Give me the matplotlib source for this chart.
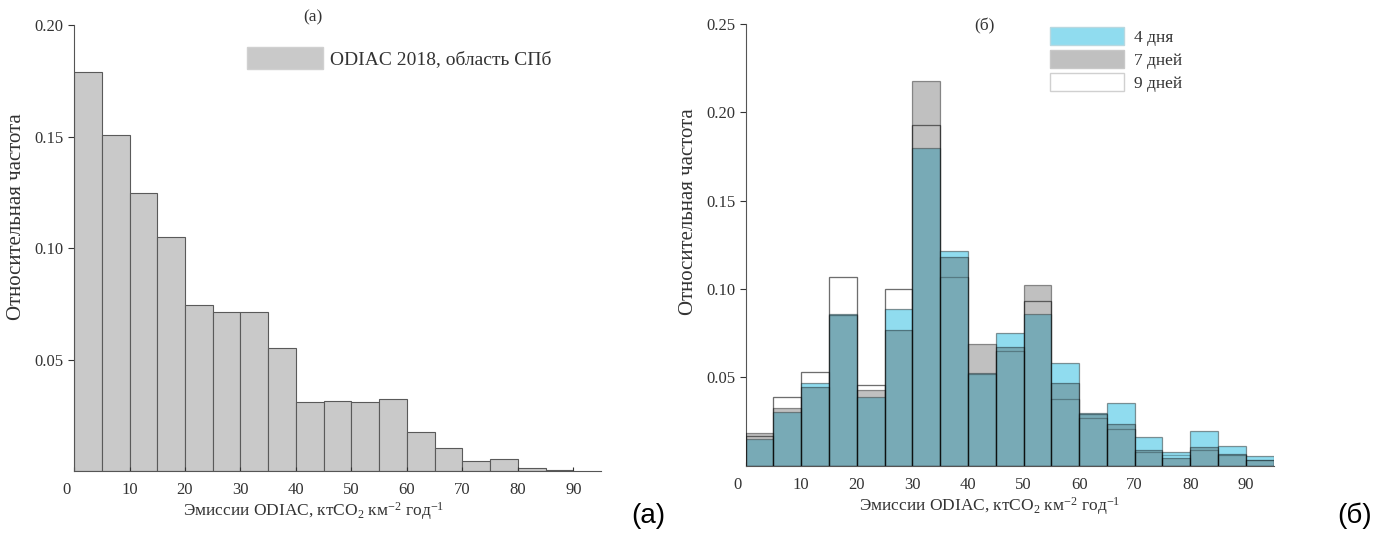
import matplotlib
matplotlib.use('Agg')
import matplotlib.pyplot as plt
import matplotlib.transforms as mtransforms
import numpy as np

plt.rcParams['font.family'] = ['Liberation Serif', 'DejaVu Serif']
plt.rcParams['mathtext.fontset'] = 'custom'
plt.rcParams['mathtext.rm'] = 'Liberation Serif'
plt.rcParams['mathtext.it'] = 'Liberation Serif:italic'
plt.rcParams['text.color'] = '#333333'
plt.rcParams['axes.labelcolor'] = '#333333'
plt.rcParams['xtick.color'] = '#333333'
plt.rcParams['ytick.color'] = '#333333'

# bin left edges, width 5
bins_a = [0, 5, 10, 15, 20, 25, 30, 35, 40, 45, 50, 55, 60, 65, 70, 75, 80, 85]
freq_a = [0.179, 0.151, 0.125, 0.105, 0.0744, 0.0713, 0.0713, 0.055, 0.031,
          0.0314, 0.031, 0.0325, 0.0177, 0.0104, 0.0043, 0.0053, 0.0012, 0.0005]

bins_b = [0, 5, 10, 15, 20, 25, 30, 35, 40, 45, 50, 55, 60, 65, 70, 75, 80, 85, 90]
days4 = [0.015, 0.0305, 0.047, 0.086, 0.039, 0.0888, 0.180, 0.1215, 0.0526, 0.075,
         0.086, 0.058, 0.030, 0.0356, 0.0164, 0.008, 0.0196, 0.011, 0.0057]
days7 = [0.0187, 0.0325, 0.0447, 0.085, 0.043, 0.077, 0.2175, 0.1178, 0.069, 0.067,
         0.102, 0.0466, 0.029, 0.0236, 0.009, 0.0045, 0.0108, 0.0066, 0.0032]
days9 = [0.017, 0.039, 0.053, 0.1066, 0.0455, 0.100, 0.193, 0.1066, 0.052, 0.065,
         0.093, 0.0376, 0.027, 0.0206, 0.008, 0.006, 0.009, 0.006, 0.003]

xlabel = 'Эмиссии ODIAC, ктCO$_2$ км$^{-2}$ год$^{-1}$'
ylabel = 'Относительная частота'

fig = plt.figure(figsize=(13.76, 5.33), dpi=100)
ax1 = fig.add_axes([0.0538, 0.1163, 0.383, 0.836])
ax2 = fig.add_axes([0.5419, 0.1263, 0.3837, 0.829])

blue = '#90dcef'
grey = (0.3, 0.3, 0.3, 0.35)
edge = (0, 0, 0, 0.4)

ax1.bar(bins_a, freq_a, width=5, align='edge', color='#c9c9c9',
        edgecolor='#5a5a5a', linewidth=0.8)

ax2.bar(bins_b, days9, width=5, align='edge', color='white', edgecolor=edge,
        linewidth=0.9, zorder=1)
ax2.bar(bins_b, days4, width=5, align='edge', color=blue, edgecolor=edge,
        linewidth=0.9, zorder=2)
ax2.bar(bins_b, days7, width=5, align='edge', color=grey,
        edgecolor=edge, linewidth=0.9, zorder=3)
# outline of 9 days on top so its edges stay visible
ax2.bar(bins_b, days9, width=5, align='edge', fill=False,
        edgecolor=(0, 0, 0, 0.28), linewidth=0.9, zorder=4)

for ax, top in [(ax1, 0.20), (ax2, 0.25)]:
    ax.set_xlim(0, 95)
    ax.set_ylim(0, top)
    ax.spines['top'].set_visible(False)
    ax.spines['right'].set_visible(False)
    ax.spines['left'].set_color('#555555')
    ax.spines['bottom'].set_color('#555555')
    ax.set_xticks(range(0, 91, 10))
    yt = np.arange(0.05, top + 0.001, 0.05)
    ax.set_yticks(yt)
    ax.set_yticklabels(['%.2f' % v for v in yt])
    ax.tick_params(axis='x', direction='in', length=3, labelsize=12, pad=8)
    ax.tick_params(axis='y', direction='out', length=4, labelsize=12)
    lbl0 = ax.get_xticklabels()[0]
    lbl0.set_transform(lbl0.get_transform() +
                       mtransforms.ScaledTranslation(-0.08, 0, fig.dpi_scale_trans))
    ax.set_xlabel(xlabel, fontsize=12.5)
    ax.set_ylabel(ylabel, fontsize=15)

ax1.xaxis.set_label_coords(0.455, -0.065)
ax2.xaxis.set_label_coords(0.463, -0.066)
ax1.yaxis.set_label_coords(-0.091, 0.572)
ax2.yaxis.set_label_coords(-0.090, 0.575)

ax1.text(43, 1.019, '(а)', transform=ax1.get_xaxis_transform(), ha='center',
         va='center', fontsize=12.5)
ax2.text(43, 0.995, '(б)', transform=ax2.get_xaxis_transform(), ha='center',
         va='center', fontsize=12.5)

ha = plt.Rectangle((0, 0), 1, 1, facecolor='#c9c9c9', edgecolor='#d0d0d0')
ax1.legend([ha], ['ODIAC 2018, область СПб'], loc='upper left',
           bbox_to_anchor=(0.328, 0.952), frameon=False, fontsize=14,
           handlelength=3.9, handleheight=1.35, handletextpad=0.36,
           borderpad=0, borderaxespad=0)

h4 = plt.Rectangle((0, 0), 1, 1, facecolor=blue, edgecolor='#b8d8e0')
h7 = plt.Rectangle((0, 0), 1, 1, facecolor=grey, edgecolor='#c8c8c8')
h9 = plt.Rectangle((0, 0), 1, 1, facecolor='white', edgecolor='#d0d0d0')
ax2.legend([h4, h7, h9], ['4 дня', '7 дней', '9 дней'], loc='upper left',
           bbox_to_anchor=(0.576, 0.9925), frameon=False, fontsize=12.5,
           handlelength=4.3, handleheight=1.25, handletextpad=0.57,
           labelspacing=0.22, borderpad=0, borderaxespad=0)

fig.text(648 / 1376, 1 - 516 / 533, '(а)', fontsize=20, family='Liberation Sans',
         ha='center', va='center', color='black')
fig.text(1355 / 1376, 1 - 516 / 533, '(б)', fontsize=20, family='Liberation Sans',
         ha='center', va='center', color='black')

fig.savefig('out.png', dpi=100)
